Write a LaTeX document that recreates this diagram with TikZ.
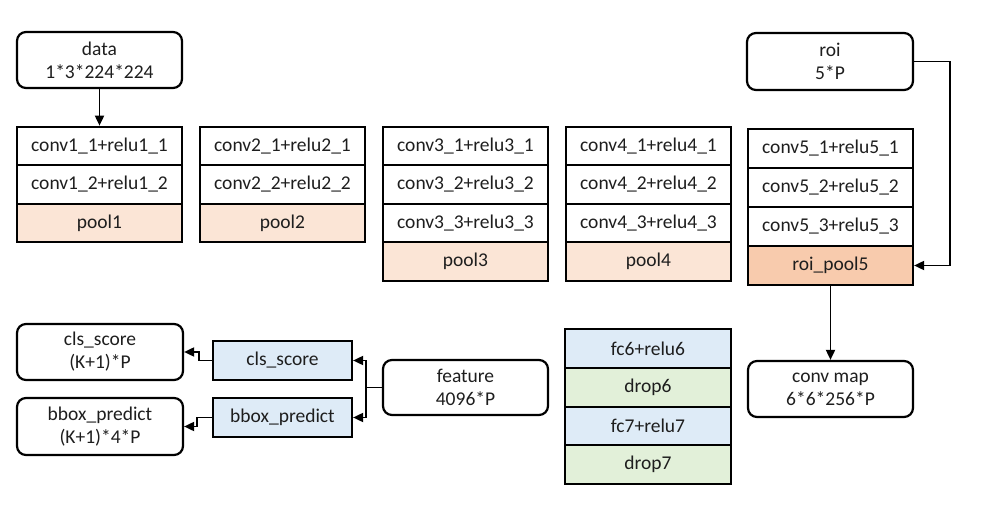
\documentclass[tikz,border=0pt]{standalone}
\usepackage{fontspec}
\setmainfont{Carlito}
\usetikzlibrary{arrows.meta}
\definecolor{poolc}{HTML}{FBE5D6}
\definecolor{roipc}{HTML}{F8CBAD}
\definecolor{fcc}{HTML}{DEEBF7}
\definecolor{dropc}{HTML}{E2F0D9}
\definecolor{txt}{HTML}{1E1E1E}
\tikzset{
  cell/.style={draw, line width=2.2pt, minimum width=165pt, minimum height=38.5pt, inner sep=0pt, text=txt, font=\fontsize{19.5}{23}\selectfont},
  rbox/.style={draw, line width=2.2pt, rounded corners=9pt, minimum width=165pt, minimum height=56pt, inner sep=0pt, align=center, text=txt, font=\fontsize{19.5}{23}\selectfont},
  conn/.style={line width=1.8pt, -{Triangle[length=10pt,width=9pt]}},
}
\begin{document}
\begin{tikzpicture}[x=1pt,y=-1pt]
\useasboundingbox (0,0) rectangle (985,510);
% data
\node[rbox] (data) at (99.5,60) {data\\1*3*224*224};
% conv1
\node[cell] (c11) at (99.5,146) {conv1\_1+relu1\_1};
\node[cell] (c12) at (99.5,184.5) {conv1\_2+relu1\_2};
\node[cell, fill=poolc] (p1) at (99.5,223) {pool1};
% conv2
\node[cell] (c21) at (282.5,146) {conv2\_1+relu2\_1};
\node[cell] (c22) at (282.5,184.5) {conv2\_2+relu2\_2};
\node[cell, fill=poolc] (p2) at (282.5,223) {pool2};
% conv3
\node[cell] (c31) at (465.5,146) {conv3\_1+relu3\_1};
\node[cell] (c32) at (465.5,184.5) {conv3\_2+relu3\_2};
\node[cell] (c33) at (465.5,223) {conv3\_3+relu3\_3};
\node[cell, fill=poolc] (p3) at (465.5,261.5) {pool3};
% conv4
\node[cell] (c41) at (648.5,146) {conv4\_1+relu4\_1};
\node[cell] (c42) at (648.5,184.5) {conv4\_2+relu4\_2};
\node[cell] (c43) at (648.5,223) {conv4\_3+relu4\_3};
\node[cell, fill=poolc] (p4) at (648.5,261.5) {pool4};
% conv5
\node[cell, minimum height=39pt] (c51) at (830.5,148.5) {conv5\_1+relu5\_1};
\node[cell, minimum height=39pt] (c52) at (830.5,187.5) {conv5\_2+relu5\_2};
\node[cell, minimum height=39pt] (c53) at (830.5,226.5) {conv5\_3+relu5\_3};
\node[cell, minimum height=39pt, fill=roipc] (p5) at (830.5,265.5) {roi\_pool5};
% roi
\node[rbox, minimum width=166pt, minimum height=57pt] (roi) at (830,61.5) {roi\\5*P};
% conv map
\node[rbox] (cm) at (830.5,389) {conv map\\6*6*256*P};
% fc stack
\node[cell, minimum width=166pt, minimum height=39pt, fill=fcc] (fc6) at (648,348.5) {fc6+relu6};
\node[cell, minimum width=166pt, minimum height=39pt, fill=dropc] (d6) at (648,387.5) {drop6};
\node[cell, minimum width=166pt, fill=fcc] (fc7) at (648,426) {fc7+relu7};
\node[cell, minimum width=166pt, fill=dropc] (d7) at (648,464.5) {drop7};
% feature
\node[rbox, minimum height=55pt] (feat) at (465.5,387.5) {feature\\4096*P};
% heads
\node[cell, minimum width=139pt, minimum height=39pt, fill=fcc] (cls) at (282.5,360.5) {cls\_score};
\node[cell, minimum width=139pt, minimum height=39pt, fill=fcc] (bbox) at (282.5,417.5) {bbox\_predict};
\node[rbox, minimum width=166pt] (clsout) at (100,352) {cls\_score\\(K+1)*P};
\node[rbox, minimum width=166pt, minimum height=57pt] (bboxout) at (100,426.5) {bbox\_predict\\(K+1)*4*P};
% connectors
\draw[conn] (data.south) -- (c11.north);
\draw[conn] (roi.east) -- ++(36,0) |- (p5.east);
\draw[conn] (p5.south) -- (cm.north);
\coordinate (j) at (366,387.5);
\draw[line width=1.8pt] (feat.west) -- (j);
\draw[conn] (j) |- (cls.east);
\draw[conn] (j) |- (bbox.east);
\draw[conn] (cls.west) -- ++(-13,0) |- (clsout.east);
\draw[conn] (bbox.west) -- ++(-15,0) |- (bboxout.east);
\end{tikzpicture}
\end{document}
